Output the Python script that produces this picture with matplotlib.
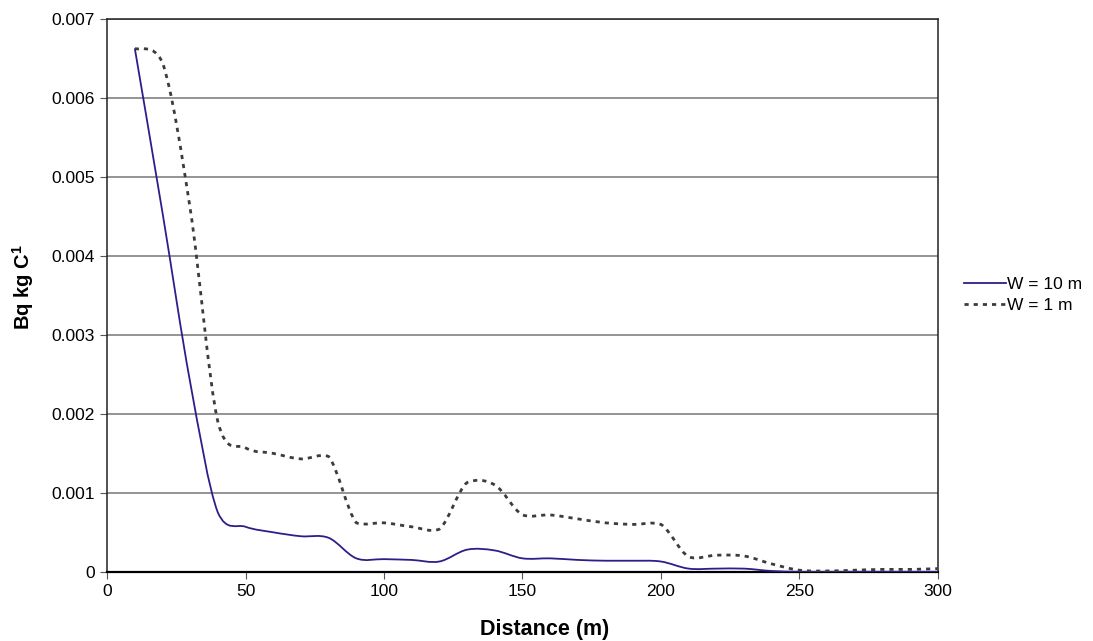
import numpy as np
import matplotlib.pyplot as plt
from matplotlib.path import Path
from matplotlib.patches import PathPatch
from matplotlib.lines import Line2D

plt.rcParams["font.family"] = ["Liberation Sans", "DejaVu Sans"]

# Values (10 m spacing)
distance = [10, 20, 30, 40, 50, 60, 70, 80, 90, 100, 110, 120, 130, 140, 150,
            160, 170, 180, 190, 200, 210, 220, 230, 240, 250, 260, 270, 280,
            290, 300]
w10 = [0.00663, 0.00455, 0.00240, 0.00075, 0.00057, 0.00050, 0.00045,
       0.00043, 0.00017, 0.00016, 0.00015, 0.00013, 0.00028, 0.00027,
       0.00017, 0.00017, 0.00015, 0.00014, 0.00014, 0.00013, 0.00004,
       0.00004, 0.00004, 0.00001, 0.0, 0.0, 0.0, 0.0, 0.0, 0.0]
w1 = [0.00663, 0.00645, 0.00460, 0.00190, 0.00157, 0.00150, 0.00143,
      0.00146, 0.00062, 0.00062, 0.00057, 0.00054, 0.00113, 0.00110,
      0.00072, 0.00072, 0.00067, 0.00062, 0.00060, 0.00060, 0.00019,
      0.00021, 0.00020, 0.00010, 0.00002, 0.00001, 0.00002, 0.00003,
      0.00003, 0.00004]
labels = ["W = 10 m", "W = 1 m"]

FS = 12.5


def smooth_path(x, y):
    """Bezier path through the points, like a spreadsheet's smoothed line."""
    pts = np.column_stack([x, y]).astype(float)
    verts = [pts[0]]
    codes = [Path.MOVETO]
    n = len(pts)
    for i in range(n - 1):
        p0 = pts[max(i - 1, 0)]
        p1 = pts[i]
        p2 = pts[i + 1]
        p3 = pts[min(i + 2, n - 1)]
        c1 = p1 + (p2 - p0) / 6.0
        c2 = p2 - (p3 - p1) / 6.0
        # allow only a small overshoot between two points
        tol = 0.2 * abs(p2[1] - p1[1]) + 0.00004
        lo, hi = min(p1[1], p2[1]) - tol, max(p1[1], p2[1]) + tol
        c1[1] = np.clip(c1[1], lo, hi)
        c2[1] = np.clip(c2[1], lo, hi)
        verts += [c1, c2, p2]
        codes += [Path.CURVE4] * 3
    return Path(verts, codes)


fig = plt.figure(figsize=(10.93, 6.41), dpi=100)
ax = fig.add_axes([0.098, 0.108, 0.760, 0.862])

ax.set_xlim(0, 300)
ax.set_ylim(0, 0.007)
ax.set_xticks(np.arange(0, 301, 50))
ax.set_yticks(np.arange(0, 0.0071, 0.001))
ax.set_yticklabels(["0"] + ["%.3f" % v for v in np.arange(0.001, 0.0071, 0.001)])
ax.yaxis.grid(True, color="#777777", linewidth=1.1)
ax.set_axisbelow(True)
ax.tick_params(axis="both", labelsize=FS, direction="out", length=5,
               color="#555555", pad=4)

for s in ax.spines.values():
    s.set_color("#222222")
    s.set_linewidth(1.1)
ax.spines["bottom"].set_linewidth(1.6)
ax.spines["bottom"].set_color("black")

c10 = "#2b1f8a"
c1 = "#3c3c3c"
ax.add_patch(PathPatch(smooth_path(distance, w10), fill=False,
                       edgecolor=c10, linewidth=1.3, zorder=3))
ax.add_patch(PathPatch(smooth_path(distance, w1), fill=False,
                       edgecolor=c1, linewidth=2.0, linestyle=(0, (1.5, 1.8)),
                       zorder=3))

fig.text(545 / 1093, 1 - 629 / 641, "Distance (m)", fontsize=15.5,
         fontweight="bold", ha="center", va="center")
fig.text(23 / 1093, 1 - 287 / 641, r"Bq kg C$^{\mathregular{1}}$",
         fontsize=14.5, fontweight="bold", rotation=90, ha="center",
         va="center")

handles = [Line2D([], [], color=c10, linewidth=1.3),
           Line2D([], [], color=c1, linewidth=2.0, linestyle=(0, (1.5, 1.8)))]
fig.legend(handles, labels, loc="center left",
           bbox_to_anchor=(964 / 1093, 1 - 295 / 641),
           frameon=False, fontsize=FS, handlelength=2.4, handletextpad=0.1,
           labelspacing=0.3, borderpad=0, borderaxespad=0)

fig.savefig("out.png", dpi=100)
